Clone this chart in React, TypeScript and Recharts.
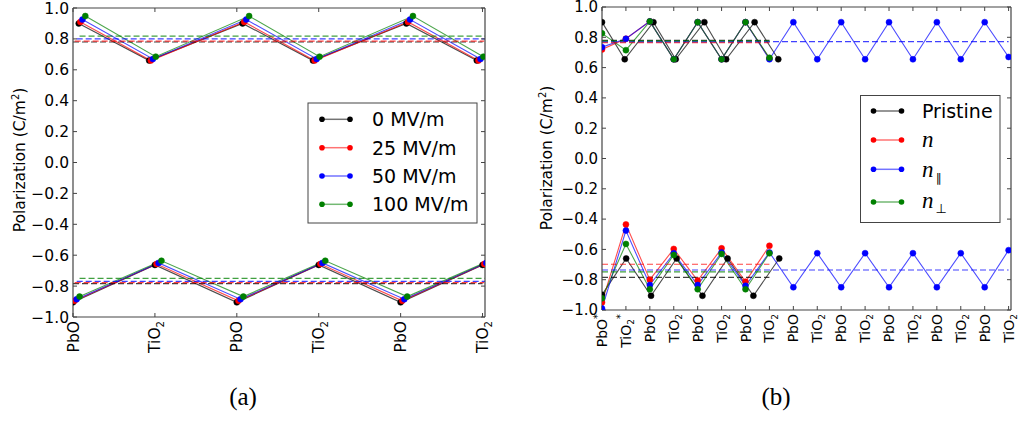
import React from 'react';
import { ComposedChart, Line, XAxis, YAxis } from 'recharts';

// ---- panel (a): field dependence ----
const leftTickLabels = ['PbO', 'TiO2', 'PbO', 'TiO2', 'PbO', 'TiO2'];
const leftTopX = [0.07, 0.93, 2.07, 2.93, 4.07, 4.93];
const leftBottomX = [0, 1, 2, 3, 4, 5];
const fieldNames = ['0 MV/m', '25 MV/m', '50 MV/m', '100 MV/m'];
const fieldShift = [0, 0.02, 0.045, 0.08];
const fieldTop = [
  [0.9, 0.66, 0.9, 0.66, 0.9, 0.66],
  [0.91, 0.66, 0.91, 0.66, 0.91, 0.66],
  [0.925, 0.67, 0.925, 0.67, 0.925, 0.67],
  [0.948, 0.685, 0.948, 0.685, 0.948, 0.685],
];
const fieldBottom = [
  [-0.905, -0.663, -0.905, -0.663, -0.905, -0.663],
  [-0.895, -0.657, -0.895, -0.657, -0.895, -0.657],
  [-0.885, -0.65, -0.885, -0.65, -0.885, -0.65],
  [-0.868, -0.636, -0.868, -0.636, -0.868, -0.636],
];
const fieldMeanTop = [0.78, 0.785, 0.8, 0.818];
const fieldMeanBottom = [-0.784, -0.778, -0.77, -0.75];

// ---- panel (b): defects ----
const rightTickLabels = [
  'PbO*', 'TiO2*', 'PbO', 'TiO2', 'PbO', 'TiO2', 'PbO', 'TiO2', 'PbO',
  'TiO2', 'PbO', 'TiO2', 'PbO', 'TiO2', 'PbO', 'TiO2', 'PbO', 'TiO2',
];
const layerX = [0, 1, 2, 3, 4, 5, 6, 7, 8, 9, 10, 11, 12, 13, 14, 15, 16, 17];
const pristineTopX = [0, 0.95, 2.15, 3.08, 4.28, 5.19, 6.38, 7.37];
const pristineBottomX = [0, 1.01, 2.05, 3.12, 4.2, 5.25, 6.33, 7.41];
const pristineTop = [0.9, 0.655, 0.9, 0.655, 0.9, 0.655, 0.9, 0.655];
const pristineBottom = [-0.9, -0.66, -0.906, -0.66, -0.906, -0.66, -0.906, -0.66];
const nTop = [0.72, 0.79, 0.905, 0.655, 0.9, 0.655, 0.9, 0.66];
const nBottom = [-0.95, -0.435, -0.8, -0.597, -0.806, -0.593, -0.813, -0.576];
const nParTop = [0.735, 0.79, 0.905, 0.655, 0.9, 0.655, 0.9, 0.655, 0.9, 0.655, 0.9, 0.655, 0.9, 0.655, 0.9, 0.655, 0.9, 0.67];
const nParBottom = [-0.99, -0.476, -0.835, -0.626, -0.835, -0.62, -0.84, -0.62, -0.85, -0.625, -0.85, -0.625, -0.85, -0.625, -0.85, -0.625, -0.85, -0.605];
const nPerpTop = [0.826, 0.715, 0.905, 0.655, 0.9, 0.655, 0.9, 0.665];
const nPerpBottom = [-0.923, -0.564, -0.863, -0.637, -0.863, -0.63, -0.863, -0.626];
const defectMeanTop = [0.78, 0.765, 0.771, 0.776];
const defectMeanBottom = [-0.784, -0.698, -0.736, -0.749];

const colors = ['#000000', '#ff0000', '#0000ff', '#008000'];
const yTicks = [1, 0.8, 0.6, 0.4, 0.2, 0, -0.2, -0.4, -0.6, -0.8, -1];

type Pt = { x: number; y: number };
type Series = { key: string; color: string; top: Pt[]; bottom: Pt[]; meanTop: number; meanBottom: number; span: [number, number] };

const pts = (xs: number[], ys: number[], dx = 0): Pt[] => ys.map((y, i) => ({ x: xs[i] + dx, y }));

const leftSeries: Series[] = fieldNames.map((name, i) => ({
  key: name,
  color: colors[i],
  top: pts(leftTopX, fieldTop[i], fieldShift[i]),
  bottom: pts(leftBottomX, fieldBottom[i], fieldShift[i]),
  meanTop: fieldMeanTop[i],
  meanBottom: fieldMeanBottom[i],
  span: [fieldShift[i], 5 + fieldShift[i]],
}));

const rightSeries: Series[] = [
  { key: 'pristine', color: colors[0], top: pts(pristineTopX, pristineTop), bottom: pts(pristineBottomX, pristineBottom), meanTop: defectMeanTop[0], meanBottom: defectMeanBottom[0], span: [0, 7] },
  { key: 'n', color: colors[1], top: pts(layerX, nTop), bottom: pts(layerX, nBottom), meanTop: defectMeanTop[1], meanBottom: defectMeanBottom[1], span: [0, 7] },
  { key: 'npar', color: colors[2], top: pts(layerX, nParTop), bottom: pts(layerX, nParBottom), meanTop: defectMeanTop[2], meanBottom: defectMeanBottom[2], span: [0, 17] },
  { key: 'nperp', color: colors[3], top: pts(layerX, nPerpTop), bottom: pts(layerX, nPerpBottom), meanTop: defectMeanTop[3], meanBottom: defectMeanBottom[3], span: [0, 7] },
];

const FONT = 'DejaVu Sans, sans-serif';
const MATH = 'Liberation Serif, serif';
const fmtY = (v: number) => (v < 0 ? '\u2212' : '') + Math.abs(v).toFixed(1);

const XTick = (props: any) => {
  const { x, y, payload, labels, fontSize } = props;
  const raw: string = labels[Math.round(payload.value)] ?? '';
  const star = raw.endsWith('*');
  const core = star ? raw.slice(0, -1) : raw;
  const sub = core.endsWith('2');
  const base = sub ? core.slice(0, -1) : core;
  return (
    <text x={x} y={y} dy="0.36em" textAnchor="end" transform={`rotate(-90, ${x}, ${y})`}
      fontSize={fontSize} fontFamily={FONT} fill="#000">
      {base}
      {sub && <tspan dy={fontSize * 0.22} fontSize={fontSize * 0.65}>2</tspan>}
      {star && <tspan dy={sub ? -fontSize * 0.72 : -fontSize * 0.45} fontSize={fontSize * 0.7}>*</tspan>}
    </text>
  );
};

type PanelProps = {
  series: Series[];
  labels: string[];
  xMax: number;
  width: number;
  marginTop: number;
  yWidth: number;
  rightWidth: number;
  bottomHeight: number;
  yFont: number;
  xFont: number;
};

const axisStroke = { stroke: '#444', strokeWidth: 1.2 };

const Panel = ({ series, labels, xMax, width, marginTop, yWidth, rightWidth, bottomHeight, yFont, xFont }: PanelProps) => (
  <ComposedChart width={width} height={421} margin={{ top: marginTop, right: 0, bottom: 0, left: 0 }}>
    <XAxis xAxisId="b" type="number" dataKey="x" domain={[0, xMax]} allowDataOverflow
      ticks={labels.map((_, i) => i)} interval={0} height={bottomHeight}
      axisLine={axisStroke} tickLine={{ stroke: '#444' }} tickSize={-4} tickMargin={8}
      tick={(p: any) => <XTick {...p} labels={labels} fontSize={xFont} />} />
    <XAxis xAxisId="t" orientation="top" type="number" dataKey="x" domain={[0, xMax]} allowDataOverflow
      ticks={labels.map((_, i) => i)} interval={0} height={1}
      axisLine={axisStroke} tickLine={{ stroke: '#444' }} tickSize={-4} tick={() => <g />} />
    <YAxis yAxisId="l" type="number" domain={[-1, 1]} allowDataOverflow ticks={yTicks} interval={0}
      width={yWidth} axisLine={axisStroke} tickLine={{ stroke: '#444' }} tickSize={-4} tickMargin={8}
      tickFormatter={fmtY} tick={{ fontSize: yFont, fill: '#000', fontFamily: FONT }} />
    <YAxis yAxisId="r" orientation="right" type="number" domain={[-1, 1]} allowDataOverflow ticks={yTicks} interval={0}
      width={rightWidth} axisLine={axisStroke} tickLine={{ stroke: '#444' }} tickSize={-4} tick={() => <g />} />
    {series.flatMap((s) => [
      <Line key={s.key + '-top'} xAxisId="b" yAxisId="l" data={s.top} dataKey="y" stroke={s.color}
        strokeOpacity={0.7} strokeWidth={1.1} isAnimationActive={false} legendType="none"
        dot={{ r: 3, fill: s.color, stroke: s.color, strokeOpacity: 1, strokeWidth: 0.5 }} activeDot={false} />,
      <Line key={s.key + '-bot'} xAxisId="b" yAxisId="l" data={s.bottom} dataKey="y" stroke={s.color}
        strokeOpacity={0.7} strokeWidth={1.1} isAnimationActive={false} legendType="none"
        dot={{ r: 3, fill: s.color, stroke: s.color, strokeOpacity: 1, strokeWidth: 0.5 }} activeDot={false} />,
    ])}
    {series.flatMap((s) => [
      <Line key={s.key + '-mt'} xAxisId="b" yAxisId="l" data={[{ x: s.span[0], y: s.meanTop }, { x: s.span[1], y: s.meanTop }]}
        dataKey="y" stroke={s.color} strokeOpacity={0.75} strokeWidth={1.2} strokeDasharray="6 3"
        dot={false} activeDot={false} isAnimationActive={false} legendType="none" />,
      <Line key={s.key + '-mb'} xAxisId="b" yAxisId="l" data={[{ x: s.span[0], y: s.meanBottom }, { x: s.span[1], y: s.meanBottom }]}
        dataKey="y" stroke={s.color} strokeOpacity={0.75} strokeWidth={1.2} strokeDasharray="6 3"
        dot={false} activeDot={false} isAnimationActive={false} legendType="none" />,
    ])}
  </ComposedChart>
);

const YLabel = ({ x, y }: { x: number; y: number }) => (
  <text x={x} y={y} dy="0.36em" textAnchor="middle" transform={`rotate(-90, ${x}, ${y})`}
    fontSize={15.5} fontFamily={FONT} fill="#000">
    Polarization (C/m<tspan dy={-6} fontSize={10}>2</tspan><tspan dy={6}>)</tspan>
  </text>
);

const LegendSample = ({ x, y, color }: { x: number; y: number; color: string }) => (
  <g>
    <line x1={x} x2={x + 28} y1={y} y2={y} stroke={color} strokeOpacity={0.55} strokeWidth={1.5} />
    <circle cx={x} cy={y} r={2.8} fill={color} />
    <circle cx={x + 28} cy={y} r={2.8} fill={color} />
  </g>
);

export default function App() {
  const leftRows = [119.3, 147.7, 176, 204.3];
  const rightRows = [111, 140, 169.3, 202];
  return (
    <div style={{ position: 'absolute', left: 0, top: 0, width: 1019, height: 421, background: '#fff' }}>
      <style>{'svg.recharts-surface { overflow: visible; }'}</style>
      <div style={{ position: 'absolute', left: 0, top: 0 }}>
        <Panel series={leftSeries} labels={leftTickLabels} xMax={5.03} width={500} marginTop={7}
          yWidth={73} rightWidth={15} bottomHeight={104} yFont={15.5} xFont={15.5} />
      </div>
      <div style={{ position: 'absolute', left: 520, top: 0 }}>
        <Panel series={rightSeries} labels={rightTickLabels} xMax={17.1} width={499} marginTop={6}
          yWidth={82} rightWidth={8} bottomHeight={111} yFont={15} xFont={14} />
      </div>
      <svg width={1019} height={421} style={{ position: 'absolute', left: 0, top: 0, pointerEvents: 'none' }}>
        <YLabel x={19.5} y={160} />
        <YLabel x={546} y={158} />

        {/* legend (a) */}
        <rect x={308} y={103} width={169} height={120} fill="#fff" stroke="#444" strokeWidth={1} />
        {fieldNames.map((name, i) => (
          <g key={name}>
            <LegendSample x={322} y={leftRows[i]} color={colors[i]} />
            <text x={372} y={leftRows[i]} dy="0.36em" fontSize={19} fontFamily={FONT} fill="#000">{name}</text>
          </g>
        ))}

        {/* legend (b) */}
        <rect x={860.5} y={95.5} width={139.5} height={127} fill="#fff" stroke="#444" strokeWidth={1} />
        {rightRows.map((ry, i) => <LegendSample key={i} x={873.5} y={ry} color={colors[i]} />)}
        <text x={922} y={111} dy="0.36em" fontSize={19} fontFamily={FONT} fill="#000">Pristine</text>
        <text x={922} y={146.5} fontSize={23} fontFamily={MATH} fontStyle="italic" fill="#000">n</text>
        <text x={922} y={176.5} fontSize={23} fontFamily={MATH} fontStyle="italic" fill="#000">
          n<tspan dx={2} dy={5} fontSize={12} fontStyle="normal" fontFamily={FONT}>{'\u2225'}</tspan>
        </text>
        <text x={922} y={208} fontSize={23} fontFamily={MATH} fontStyle="italic" fill="#000">
          n<tspan dx={2} dy={5} fontSize={13} fontStyle="normal" fontFamily={FONT}>{'\u22A5'}</tspan>
        </text>

        <text x={243} y={405} textAnchor="middle" fontSize={25} fontFamily={MATH} fill="#000">(a)</text>
        <text x={776} y={405} textAnchor="middle" fontSize={25} fontFamily={MATH} fill="#000">(b)</text>
      </svg>
    </div>
  );
}
